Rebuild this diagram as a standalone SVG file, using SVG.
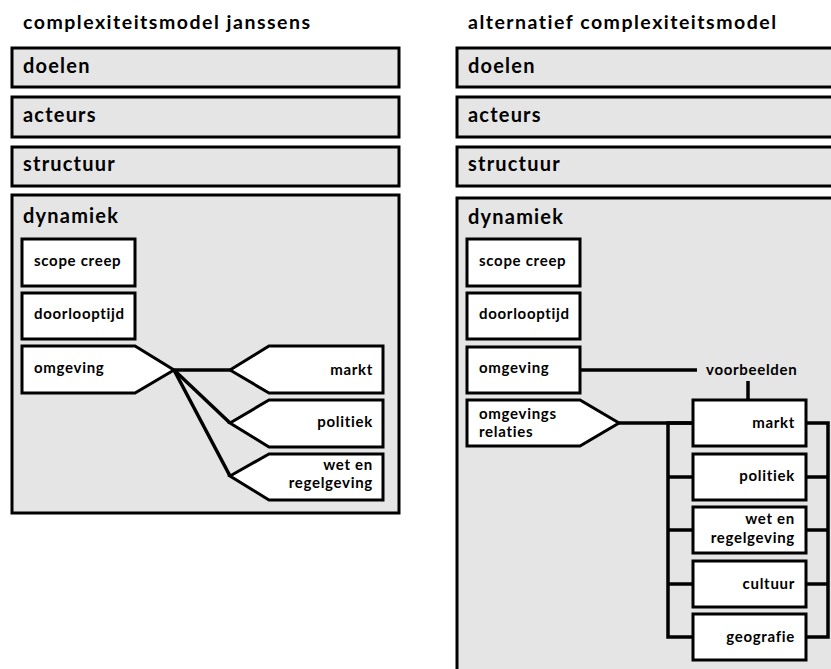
<svg xmlns="http://www.w3.org/2000/svg" width="831" height="669" viewBox="0 0 831 669">
<style>
.bg{fill:#e5e5e5;stroke:#000;stroke-width:3}
.nd{fill:#fff;stroke:#000;stroke-width:3}
.t{font-family:Lato,"Open Sans",sans-serif;font-weight:bold;fill:#000}
.h{font-size:19.5px;letter-spacing:1.5px}
.l{font-size:20px;letter-spacing:1.2px}
.s{font-size:15px;letter-spacing:0.7px}
.r{text-anchor:end}
.c{fill:none;stroke:#000;stroke-width:3.5}
</style>
<rect width="831" height="669" fill="#fff"/>
<text class="t h" x="23" y="29">complexiteitsmodel janssens</text>
<text class="t h" x="468" y="29">alternatief complexiteitsmodel</text>

<g id="l-doelen"><rect class="bg" x="12" y="48" width="387" height="39"/><text class="t l" x="23" y="73">doelen</text></g>
<g id="l-acteurs"><rect class="bg" x="12" y="97" width="387" height="40"/><text class="t l" x="23" y="122">acteurs</text></g>
<g id="l-structuur"><rect class="bg" x="12" y="147" width="387" height="39"/><text class="t l" x="23" y="171">structuur</text></g>
<g id="l-dynamiek"><rect class="bg" x="12" y="195" width="387" height="318"/><text class="t l" x="23" y="223">dynamiek</text></g>
<g id="l-scope"><rect class="nd" x="22" y="239" width="113" height="47"/><text class="t s" x="34" y="266">scope creep</text></g>
<g id="l-doorloop"><rect class="nd" x="22" y="293" width="113" height="46"/><text class="t s" x="34" y="319">doorlooptijd</text></g>
<g id="l-omgeving"><polygon class="nd" points="22,346 135,346 174,370 135,393 22,393"/><text class="t s" x="34" y="373">omgeving</text></g>
<g id="l-markt"><polygon class="nd" points="230,370 269,346 383,346 383,393 269,393"/><text class="t s r" x="373" y="375">markt</text></g>
<g id="l-politiek"><polygon class="nd" points="230,423 269,400 383,400 383,447 269,447"/><text class="t s r" x="373" y="427">politiek</text></g>
<g id="l-wet"><polygon class="nd" points="230,476 269,454 383,454 383,500 269,500"/><text class="t s r" x="373" y="470">wet en</text><text class="t s r" x="373" y="488">regelgeving</text></g>

<g id="r-doelen"><rect class="bg" x="457" y="48" width="380" height="39"/><text class="t l" x="468" y="73">doelen</text></g>
<g id="r-acteurs"><rect class="bg" x="457" y="97" width="380" height="40"/><text class="t l" x="468" y="122">acteurs</text></g>
<g id="r-structuur"><rect class="bg" x="457" y="147" width="380" height="39"/><text class="t l" x="468" y="171">structuur</text></g>
<g id="r-dynamiek"><rect class="bg" x="457" y="198" width="380" height="480"/><text class="t l" x="468" y="224">dynamiek</text></g>
<g id="r-scope"><rect class="nd" x="467" y="239" width="113" height="47"/><text class="t s" x="479" y="266">scope creep</text></g>
<g id="r-doorloop"><rect class="nd" x="467" y="293" width="113" height="46"/><text class="t s" x="479" y="319">doorlooptijd</text></g>
<g id="r-omgeving"><rect class="nd" x="467" y="347" width="113" height="46"/><text class="t s" x="479" y="373">omgeving</text></g>
<g id="r-voorbeelden"><text class="t s" x="706" y="375">voorbeelden</text></g>
<g id="r-relaties"><polygon class="nd" points="467,400 580,400 619,423 580,446 467,446"/><text class="t s" x="479" y="419">omgevings</text><text class="t s" x="479" y="437">relaties</text></g>
<g id="r-markt"><rect class="nd" x="693" y="400" width="113" height="46"/><text class="t s r" x="795" y="428">markt</text></g>
<g id="r-politiek"><rect class="nd" x="693" y="454" width="113" height="46"/><text class="t s r" x="795" y="481">politiek</text></g>
<g id="r-wet"><rect class="nd" x="693" y="507" width="113" height="46"/><text class="t s r" x="795" y="524">wet en</text><text class="t s r" x="795" y="543">regelgeving</text></g>
<g id="r-cultuur"><rect class="nd" x="693" y="561" width="113" height="46"/><text class="t s r" x="795" y="589">cultuur</text></g>
<g id="r-geografie"><rect class="nd" x="693" y="614" width="113" height="46"/><text class="t s r" x="795" y="642">geografie</text></g>

<g id="connectors">
<line class="c" x1="174" y1="370" x2="230" y2="370" stroke-width="5"/>
<line class="c" x1="174" y1="370" x2="230" y2="423"/>
<line class="c" x1="174" y1="370" x2="230" y2="476"/>
<line class="c" x1="580" y1="370" x2="697" y2="370" stroke-width="4"/>
<line class="c" x1="748" y1="381" x2="748" y2="400"/>
<line class="c" x1="619" y1="423" x2="693" y2="423"/>
<polyline class="c" points="693,423 668,423 668,637 693,637"/>
<line class="c" x1="668" y1="477" x2="693" y2="477"/>
<line class="c" x1="668" y1="530" x2="693" y2="530"/>
<line class="c" x1="668" y1="584" x2="693" y2="584"/>
<polyline class="c" points="806,423 828,423 828,637 806,637"/>
<line class="c" x1="806" y1="477" x2="828" y2="477"/>
<line class="c" x1="806" y1="530" x2="828" y2="530"/>
<line class="c" x1="806" y1="584" x2="828" y2="584"/>
</g>
</svg>
